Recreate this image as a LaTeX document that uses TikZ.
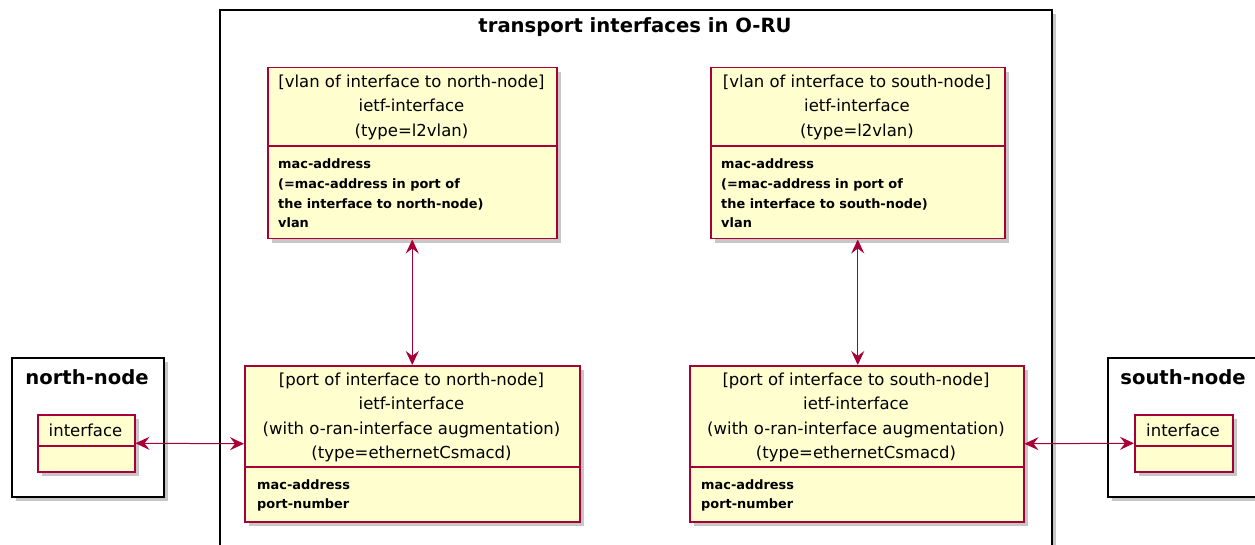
\documentclass[tikz,border=0pt]{standalone}
\usepackage{fontspec}
\setmainfont{DejaVu Sans}
\usetikzlibrary{arrows.meta,shadows}
\definecolor{umlfill}{HTML}{FEFECE}
\definecolor{umlred}{HTML}{A80036}
\tikzset{
  shade4/.style={drop shadow={shadow xshift=4pt,shadow yshift=-4pt,fill=black,opacity=0.22}},
  classbox/.style={draw=umlred, fill=umlfill, line width=1.5pt, inner sep=0pt, anchor=north west, shade4},
  pkgbox/.style={draw=black, fill=white, line width=1.7pt, inner sep=0pt, anchor=north west, shade4},
  divider/.style={draw=umlred, line width=1.5pt},
  hdr/.style={inner sep=0pt, align=center, font=\fontsize{16.5}{24.5}\selectfont},
  attr/.style={inner sep=0pt, align=left, anchor=west, font=\fontsize{12.9}{19.7}\selectfont\bfseries},
  pkgtitle/.style={inner sep=0pt, font=\fontsize{19.6}{22}\selectfont\bfseries},
  conn/.style={draw=umlred, line width=1pt, {Stealth[length=14pt,width=13pt,inset=5pt]}-{Stealth[length=14pt,width=13pt,inset=5pt]}},
}
\begin{document}
\begin{tikzpicture}[x=1pt,y=-1pt]
\useasboundingbox (0,0) rectangle (1255,545);
\clip (0,0) rectangle (1255,545);
% packages
\node[pkgbox, minimum width=152pt, minimum height=139pt] (north) at (11,357) {};
\node[pkgtitle] (northt) at (87,377) {north-node};
\node[pkgbox, minimum width=152pt, minimum height=139pt] (south) at (1107,357) {};
\node[pkgtitle] (southt) at (1183,377) {south-node};
\node[pkgbox, minimum width=832pt, minimum height=600pt] (oru) at (219,9) {};
\node[pkgtitle] (orut) at (635,27) {transport interfaces in O-RU};
% interfaces of nodes
\node[classbox, minimum width=97pt, minimum height=57pt] (nif) at (37,414) {};
\draw[divider] (37,446) -- (134,446);
\node[hdr] (nift) at (85.5,430) {interface};
\node[classbox, minimum width=98pt, minimum height=57pt] (sif) at (1134,414) {};
\draw[divider] (1134,446) -- (1232,446);
\node[hdr] (sift) at (1183,430) {interface};
% vlan north
\node[classbox, minimum width=289pt, minimum height=171pt] (nv) at (267,67) {};
\draw[divider] (267,146) -- (556,146);
\node[hdr] (nvt) at (411.5,107) {[vlan of interface to north-node]\\ietf-interface\\(type=l2vlan)};
\node[attr] (nva) at (278,193.5) {mac-address\\(=mac-address in port of\\the interface to north-node)\\vlan};
% vlan south
\node[classbox, minimum width=294pt, minimum height=171pt] (sv) at (710,67) {};
\draw[divider] (710,146) -- (1004,146);
\node[hdr] (svt) at (857,107) {[vlan of interface to south-node]\\ietf-interface\\(type=l2vlan)};
\node[attr] (sva) at (721,193.5) {mac-address\\(=mac-address in port of\\the interface to south-node)\\vlan};
% port north
\node[classbox, minimum width=335pt, minimum height=156pt] (np) at (244,365) {};
\draw[divider] (244,467) -- (579,467);
\node[hdr] (npt) at (411.5,417.5) {[port of interface to north-node]\\ietf-interface\\(with o-ran-interface augmentation)\\(type=ethernetCsmacd)};
\node[attr] (npa) at (257,495.5) {mac-address\\port-number};
% port south
\node[classbox, minimum width=334pt, minimum height=156pt] (sp) at (689,365) {};
\draw[divider] (689,467) -- (1023,467);
\node[hdr] (spt) at (856,417.5) {[port of interface to south-node]\\ietf-interface\\(with o-ran-interface augmentation)\\(type=ethernetCsmacd)};
\node[attr] (spa) at (701,495.5) {mac-address\\port-number};
% connectors
\draw[conn] (nv.south) -- (nv.south |- np.north);
\draw[conn] (sv.south) -- (sv.south |- sp.north);
\draw[conn] (nif.east) -- (np.west);
\draw[conn] (sp.east) -- (sif.west);
\end{tikzpicture}
\end{document}
